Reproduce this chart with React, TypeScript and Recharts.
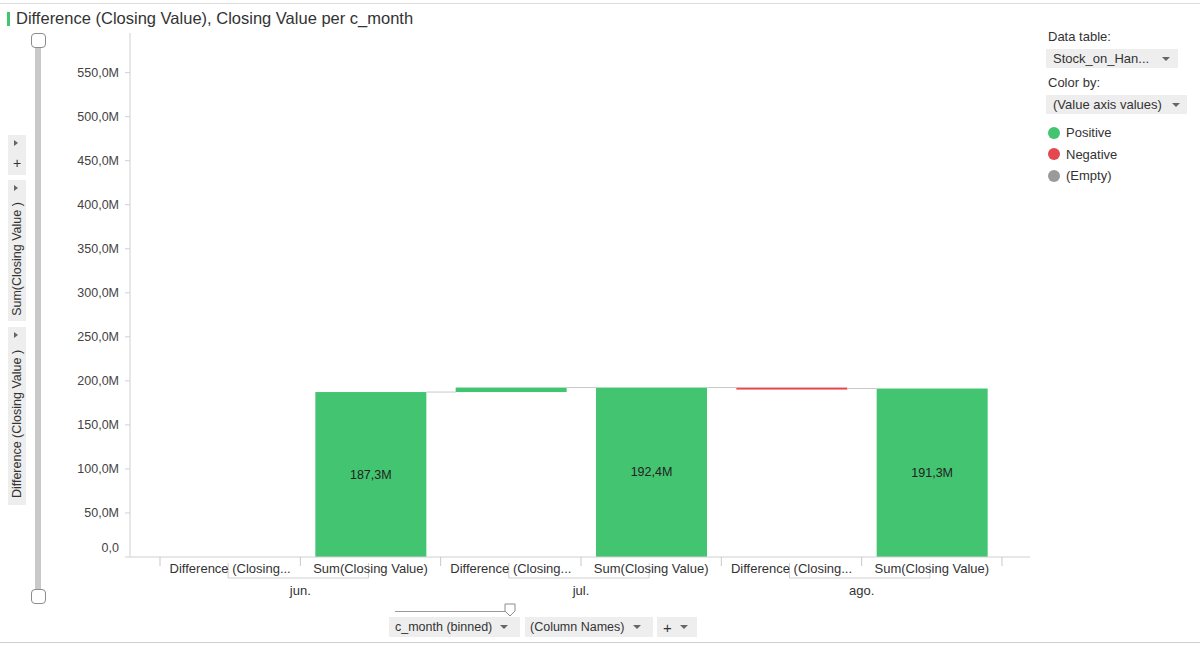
import React from 'react';
import { BarChart, Bar, XAxis, YAxis, Cell, LabelList } from 'recharts';

// values in millions
const months = ['jun.', 'jul.', 'ago.'];
const closingSums = [187.3, 192.4, 191.3];
const closingDiffs = [null, 5.1, -1.1];
const yTicks = [0, 50, 100, 150, 200, 250, 300, 350, 400, 450, 500, 550];
const diffLabel = 'Difference (Closing...';
const sumLabel = 'Sum(Closing Value)';
const legendItems = ['Positive', 'Negative', '(Empty)'];

const GREEN = '#42c471';
const RED = '#e5474f';
const FONT = '"Liberation Sans", Arial, sans-serif';
const TEXT = '#333';

const CHART_W = 1200;
const CHART_H = 646;
const MARGIN = { top: 33, right: 170, bottom: 49, left: 70 };
const Y_W = 60;
const PAD = { left: 30, right: 28 };
const BAR_W = 111;

type Row = {
  name: string;
  kind: 'diff' | 'sum';
  month: string;
  base: number;
  size: number;
  color: string;
  endAtTop: boolean;
  connect: boolean;
  total: number | null;
};

const rows: Row[] = [];
months.forEach((m, i) => {
  const d = closingDiffs[i];
  const prev = i > 0 ? closingSums[i - 1] : 0;
  rows.push({
    name: `${m} diff`,
    kind: 'diff',
    month: m,
    base: d == null ? 0 : Math.min(prev, prev + d),
    size: d == null ? 0 : Math.abs(d),
    color: d != null && d < 0 ? RED : GREEN,
    endAtTop: d == null || d >= 0,
    connect: d != null,
    total: null,
  });
  rows.push({
    name: `${m} sum`,
    kind: 'sum',
    month: m,
    base: 0,
    size: closingSums[i],
    color: GREEN,
    endAtTop: true,
    connect: i < months.length - 1,
    total: closingSums[i],
  });
});

const plotW = CHART_W - MARGIN.left - Y_W - MARGIN.right;
const band = (plotW - PAD.left - PAD.right) / rows.length;

const fmt = (v: number) => (v === 0 ? '0,0' : `${v.toFixed(1).replace('.', ',')}M`);

function WaterfallBar(props: any) {
  const { x, y, width, height, payload } = props;
  if (!payload || payload.size === 0) return null;
  const h = Math.max(height, 2);
  const endY = payload.endAtTop ? y : y + height;
  return (
    <g>
      <rect x={x} y={y} width={width} height={h} fill={payload.color} />
      {payload.connect && (
        <line x1={x + width} x2={x + band} y1={endY} y2={endY} stroke="#c8c8c8" strokeWidth={1} />
      )}
    </g>
  );
}

function XTick(props: any) {
  const { x, y, index } = props;
  const row = rows[index];
  if (!row) return null;
  const isDiff = row.kind === 'diff';
  return (
    <g fontFamily={FONT} fontSize={13} fill={TEXT}>
      <line x1={x - band / 2} x2={x - band / 2} y1={y} y2={y + 9} stroke="#c8c8c8" />
      {index === rows.length - 1 && (
        <line x1={x + band / 2} x2={x + band / 2} y1={y} y2={y + 9} stroke="#c8c8c8" />
      )}
      {isDiff && (
        <path
          d={`M${x - 2},${y + 6} V${y + 21} H${x + band - 2} V${y + 6}`}
          fill="none"
          stroke="#d0d0d0"
        />
      )}
      <text x={x} y={y + 16} textAnchor="middle" fill={TEXT}>
        {isDiff ? diffLabel : sumLabel}
      </text>
      {!isDiff && (
        <text x={x - band / 2} y={y + 38} textAnchor="middle" fill={TEXT}>
          {row.month}
        </text>
      )}
    </g>
  );
}

function YTick(props: any) {
  const { x, y, payload } = props;
  const v = payload.value;
  return (
    <text x={x} y={y + (v === 0 ? -9 : 0)} dy={4} textAnchor="end" fontFamily={FONT} fontSize={12.5} fill="#444">
      {fmt(v)}
    </text>
  );
}

function SumLabel(props: any) {
  const { x, y, width, height, index } = props;
  const row = rows[index];
  if (!row || row.kind !== 'sum' || row.total == null) return null;
  return (
    <text x={x + width / 2} y={y + height / 2} dy={4} textAnchor="middle" fontFamily={FONT} fontSize={12.5} fill="#222">
      {fmt(row.total)}
    </text>
  );
}

const Arrow = () => (
  <span
    style={{
      display: 'inline-block',
      width: 0,
      height: 0,
      borderLeft: '4px solid transparent',
      borderRight: '4px solid transparent',
      borderTop: '4px solid #666',
      verticalAlign: 'middle',
    }}
  />
);

const box: React.CSSProperties = {
  position: 'absolute',
  background: '#eeeeee',
  fontSize: 12.5,
  color: TEXT,
  display: 'flex',
  alignItems: 'center',
  boxSizing: 'border-box',
};

function SideButton({ top, height, label }: { top: number; height: number; label: string }) {
  return (
    <div style={{ ...box, left: 8, top, width: 18, height, display: 'block' }}>
      <div style={{ position: 'absolute', left: 6, top: 5, width: 0, height: 0, borderTop: '3px solid transparent', borderBottom: '3px solid transparent', borderLeft: '4px solid #666' }} />
      <div
        style={{
          position: 'absolute',
          left: 9,
          top: 16 + (height - 16) / 2,
          transform: 'translate(-50%, -50%) rotate(-90deg)',
          whiteSpace: 'nowrap',
          fontSize: label === '+' ? 14 : 12.5,
        }}
      >
        {label === '+' ? <span style={{ display: 'inline-block', transform: 'rotate(90deg)' }}>+</span> : label}
      </div>
    </div>
  );
}

export default function App() {
  return (
    <div style={{ position: 'absolute', left: 0, top: 0, width: CHART_W, height: CHART_H, background: '#fff', fontFamily: FONT, overflow: 'hidden' }}>
      <div style={{ position: 'absolute', left: 0, top: 0, width: CHART_W, height: 3, borderBottom: '1px solid #dcdcdc' }} />
      <div style={{ position: 'absolute', left: 0, top: 642, width: CHART_W, height: 1, background: '#cfcfcf' }} />

      <BarChart
        width={CHART_W}
        height={CHART_H}
        data={rows}
        margin={MARGIN}
        barSize={BAR_W}
        style={{ position: 'absolute', left: 0, top: 0 }}
      >
        <XAxis
          dataKey="name"
          interval={0}
          tickLine={false}
          tickSize={0}
          tickMargin={0}
          height={40}
          padding={PAD}
          axisLine={{ stroke: '#d0d0d0' }}
          tick={<XTick />}
        />
        <YAxis
          width={Y_W}
          domain={[0, 595]}
          ticks={yTicks}
          tickSize={5}
          tickMargin={6}
          axisLine={{ stroke: '#d0d0d0' }}
          tickLine={{ stroke: '#d0d0d0' }}
          tick={<YTick />}
        />
        <Bar dataKey="base" stackId="w" fill="transparent" isAnimationActive={false} />
        <Bar dataKey="size" stackId="w" isAnimationActive={false} shape={<WaterfallBar />}>
          {rows.map((r, i) => (
            <Cell key={i} fill={r.color} />
          ))}
          <LabelList dataKey="size" content={<SumLabel />} />
        </Bar>
      </BarChart>

      {/* title */}
      <div style={{ position: 'absolute', left: 7, top: 12, width: 3, height: 14, background: GREEN }} />
      <div style={{ position: 'absolute', left: 16, top: 9, fontSize: 16.5, color: TEXT }}>
        Difference (Closing Value), Closing Value per c_month
      </div>

      {/* left vertical range slider */}
      <div style={{ position: 'absolute', left: 35, top: 44, width: 6, height: 550, background: '#c9c9c9' }} />
      <div style={{ position: 'absolute', left: 31, top: 33, width: 13, height: 13, border: '1px solid #8c8c8c', borderRadius: 4, background: '#fff' }} />
      <div style={{ position: 'absolute', left: 31, top: 589, width: 13, height: 13, border: '1px solid #8c8c8c', borderRadius: 4, background: '#fff' }} />

      <SideButton top={135} height={40} label="+" />
      <SideButton top={180} height={141} label="Sum(Closing Value )" />
      <SideButton top={327} height={178} label="Difference (Closing Value )" />

      {/* right panel */}
      <div style={{ position: 'absolute', left: 1048, top: 29, fontSize: 13, color: TEXT }}>Data table:</div>
      <div style={{ ...box, left: 1046, top: 49, width: 132, height: 19, paddingLeft: 7, justifyContent: 'space-between', paddingRight: 8, fontSize: 13 }}>
        <span>Stock_on_Han...</span>
        <Arrow />
      </div>
      <div style={{ position: 'absolute', left: 1048, top: 75, fontSize: 13, color: TEXT }}>Color by:</div>
      <div style={{ ...box, left: 1046, top: 95, width: 141, height: 19, paddingLeft: 7, justifyContent: 'space-between', paddingRight: 7, fontSize: 13 }}>
        <span>(Value axis values)</span>
        <Arrow />
      </div>
      {legendItems.map((label, i) => (
        <div key={label} style={{ position: 'absolute', left: 1048, top: 125 + i * 21.5, display: 'flex', alignItems: 'center', fontSize: 13, color: TEXT }}>
          <span style={{ display: 'inline-block', width: 12, height: 12, borderRadius: 6, background: [GREEN, RED, '#9a9a9a'][i], marginRight: 6 }} />
          {label}
        </div>
      ))}

      {/* bottom axis selectors */}
      <div style={{ position: 'absolute', left: 395, top: 611, width: 112, height: 1, background: '#9a9a9a' }} />
      <svg style={{ position: 'absolute', left: 504, top: 603 }} width={12} height={15}>
        <path d="M1,1 H11 V8 L6,13 L1,8 Z" fill="#fff" stroke="#8c8c8c" />
      </svg>
      <div style={{ ...box, left: 389, top: 617, width: 131, height: 20, paddingLeft: 6, gap: 8 }}>
        <span>c_month (binned)</span>
        <Arrow />
      </div>
      <div style={{ ...box, left: 525, top: 617, width: 128, height: 20, paddingLeft: 5, gap: 9 }}>
        <span>(Column Names)</span>
        <Arrow />
      </div>
      <div style={{ ...box, left: 657, top: 617, width: 40, height: 20, paddingLeft: 6, gap: 8 }}>
        <span style={{ fontSize: 15 }}>+</span>
        <Arrow />
      </div>
    </div>
  );
}
